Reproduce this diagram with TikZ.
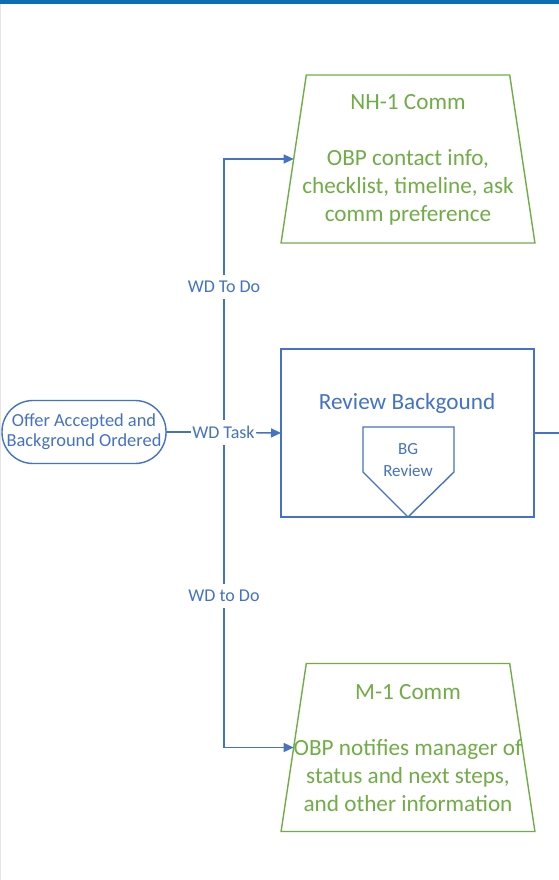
\documentclass[tikz,border=0pt]{standalone}
\usepackage{fontspec}
\setmainfont{Carlito}
\usetikzlibrary{arrows.meta,shapes.geometric}
\definecolor{obblue}{RGB}{68,114,196}
\definecolor{obgreen}{RGB}{112,173,71}
\definecolor{topbar}{RGB}{10,110,178}
\tikzset{
  conn/.style={draw=obblue, line width=1.4pt},
  arr/.style={conn, -{Triangle[length=10pt,width=9pt]}},
  lbl/.style={fill=white, text=obblue, inner xsep=1pt, inner ysep=6pt, font=\fontsize{18}{20}\selectfont},
  trap/.style={draw=obgreen, line width=1.4pt, trapezium, trapezium stretches=true,
     trapezium left angle=81.5, trapezium right angle=81.5,
     minimum width=254pt, minimum height=168pt, inner sep=2pt, outer sep=0pt},
  greentxt/.style={text=obgreen, align=center, inner sep=0pt, font=\fontsize{23.2}{28}\selectfont},
  bluebox/.style={draw=obblue, line width=1.4pt, minimum width=253pt, minimum height=168pt, inner sep=0pt, outer sep=0pt},
  stadium/.style={draw=obblue, line width=1.4pt, rounded corners=31pt, minimum width=164pt, minimum height=63pt,
     inner sep=0pt, outer sep=0pt, text=obblue, align=center, font=\fontsize{18.4}{20}\selectfont},
}
\begin{document}
\begin{tikzpicture}[x=1pt,y=-1pt]
\useasboundingbox (0,0) rectangle (559,880);
\fill[white] (0,0) rectangle (559,880);
\fill[topbar] (0,0) rectangle (559,4);
\draw[black!10, line width=1pt] (0.5,4) -- (0.5,880);

% nodes
\node[stadium] (offer) at (84,432) {\raisebox{-1pt}{\parbox{160pt}{\centering Offer Accepted and\\Background Ordered}}};
\node[trap] (nh) at (408,159) {\phantom{M}};
\node[greentxt] (nhtext) at ([yshift=-1pt]nh.center) {NH-1 Comm\\[28pt]OBP contact info,\\checklist, timeline, ask\\comm preference};
\node[trap] (m1) at (408,747.5) {\phantom{M}};
\node[greentxt] (m1text) at ([yshift=-1pt]m1.center) {M-1 Comm\\[28pt]OBP notifies manager of\\status and next steps,\\and other information};
\node[bluebox] (review) at (407.5,433) {};
\node[text=obblue, inner sep=0pt, font=\fontsize{23.2}{28}\selectfont] (revtitle) at (407,403) {Review Backgound};
\draw[conn] (363,427) -- (454,427) -- (454,472) -- (408,517) -- (363,472) -- cycle;
\node[text=obblue, align=center, inner sep=0pt, font=\fontsize{17}{22}\selectfont] (bgrev) at (408,460) {BG\\Review};
\coordinate (rend) at (559,433);

% connectors
\draw[arr] (offer.east) -- ++(58,0) |- node[lbl, pos=0.266] (lblnh) {WD To Do} (nh.west);
\draw[arr] (offer.east) -- ++(58,0) |- node[lbl, pos=0.26] (lblm1) {WD to Do} (m1.west);
\draw[arr] (offer.east) -- node[lbl, pos=0.5] (lbltask) {WD Task} (review.west);
\draw[conn] (review.east) -- (rend);
\end{tikzpicture}
\end{document}
